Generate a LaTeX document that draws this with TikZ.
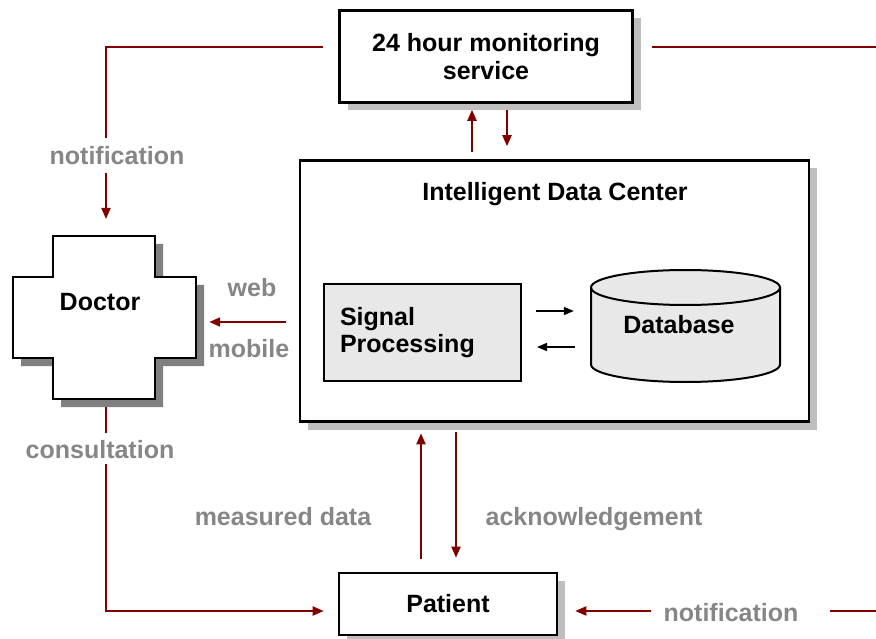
\documentclass[tikz,border=0pt]{standalone}
\usepackage{fontspec}
\setmainfont{Liberation Sans}
\usetikzlibrary{arrows.meta,shadows,calc}
\definecolor{dred}{RGB}{128,0,0}
\definecolor{lblgray}{RGB}{134,134,134}
\definecolor{shadowgray}{RGB}{190,190,190}
\definecolor{crossshadow}{RGB}{128,128,128}
\definecolor{boxfill}{RGB}{232,232,232}
\begin{document}
\begin{tikzpicture}[x=1pt,y=-1pt,
  font=\fontsize{25}{27.5}\selectfont\bfseries,
  box/.style={draw=black,line width=2.6pt,fill=white,inner sep=0pt,align=center,
     drop shadow={shadow xshift=8pt,shadow yshift=-8pt,fill=shadowgray,opacity=1}},
  txt/.style={inner sep=0pt,anchor=base},
  lbl/.style={txt,text=lblgray},
  rl/.style={draw=dred,line width=2pt},
  rarrow/.style={rl,-{Triangle[length=11pt,width=9pt]}},
  barrow/.style={draw=black,line width=1.6pt,-{Triangle[length=10pt,width=8pt]}},
]
\useasboundingbox (0,0) rectangle (876,639);

% main boxes
\node[box,minimum width=293pt,minimum height=92pt] (mon) at (486,56.5) {24 hour monitoring\\service};
\node[box,minimum width=509pt,minimum height=261pt] (dc) at (554.5,291) {};
\node[txt] (dctitle) at (555,201) {Intelligent Data Center};
\node[draw=black,line width=2pt,fill=boxfill,minimum width=197pt,minimum height=97pt,
      text width=165pt,inner xsep=16pt,inner ysep=0pt,align=left] (sp) at (422.5,332.5) {Signal\\Processing};

% database cylinder
\node[minimum width=189pt,minimum height=112pt,inner sep=0pt] (db) at (685.5,326) {};
\fill[boxfill] (591,287.5) -- (591,364.5) arc[start angle=180,end angle=360,x radius=94.5pt,y radius=17.5pt] -- (780,287.5) -- cycle;
\fill[boxfill] (685.5,287.5) ellipse[x radius=94.5pt,y radius=17.5pt];
\draw[line width=2pt] (591,287.5) -- (591,364.5) arc[start angle=180,end angle=360,x radius=94.5pt,y radius=17.5pt] -- (780,287.5);
\draw[line width=2pt] (685.5,287.5) ellipse[x radius=94.5pt,y radius=17.5pt];
\node[txt] (dbtext) at (679,334) {Database};

% doctor cross
\node[minimum width=183pt,minimum height=163pt,inner sep=0pt] (doc) at (104.5,317.5) {};
\draw[line width=2.6pt,fill=white,drop shadow={shadow xshift=8pt,shadow yshift=-8pt,fill=crossshadow,opacity=1}]
  (53,236) -- (155,236) -- (155,277) -- (196,277) -- (196,358) -- (155,358) -- (155,399)
  -- (53,399) -- (53,358) -- (13,358) -- (13,277) -- (53,277) -- cycle;
\node[txt] (doctext) at (100,310) {Doctor};

% patient
\node[box,minimum width=218pt,minimum height=62pt] (pat) at (448,604) {Patient};

% labels
\node[lbl] (nL) at (117,165) {notification};
\node[lbl] (web) at (252,297) {web};
\node[lbl] (mob) at (249,357) {mobile};
\node[lbl] (cons) at (100,458) {consultation};
\node[lbl] (meas) at (283,525) {measured data};
\node[lbl] (ack) at (594,525) {acknowledgement};
\node[lbl] (nR) at (731,621) {notification};

% free ends
\coordinate (tlA) at (323,47);
\coordinate (tlB) at (106,138);
\coordinate (tlC) at (106,173);
\coordinate (tlD) at (106,219);
\coordinate (trA) at (652,47);
\coordinate (trB) at (876,47);
\coordinate (csA) at (106,407);
\coordinate (csB) at (106,433);
\coordinate (csC) at (106,464);
\coordinate (brA) at (830,611);
\coordinate (brB) at (876,611);
\coordinate (brC) at (651,611);

% red connectors
\draw[rl] (tlA) -| (tlB);
\draw[rarrow] (tlC) -- (tlD);
\draw[rl] (trA) -- (trB);
\draw[rarrow] ($(dc.north)+(-82.5,-7)$) -- ($(mon.south)+(-14,6)$);
\draw[rarrow] ($(mon.south)+(21,6)$) -- ($(dc.north)+(-47.5,-13)$);
\draw[rarrow] ($(dc.west)+(-13,31)$) -- ($(doc.east)+(13,4.5)$);
\draw[rl] (csA) -- (csB);
\draw[rarrow] (csC) |- ($(pat.west)+(-14,7)$);
\draw[rarrow] ($(pat.north)+(-27,-13)$) -- ($(dc.south)+(-133.5,10.5)$);
\draw[rarrow] ($(dc.south)+(-98.5,9)$) -- ($(pat.north)+(8,-14)$);
\draw[rl] (brA) -- (brB);
\draw[rarrow] (brC) -- ($(pat.east)+(17,7)$);

% black inner arrows
\draw[barrow] ($(sp.east)+(14,-21.5)$) -- ($(db.west)+(-17,-15)$);
\draw[barrow] ($(db.west)+(-16,21)$) -- ($(sp.east)+(15,14.5)$);
\end{tikzpicture}
\end{document}
